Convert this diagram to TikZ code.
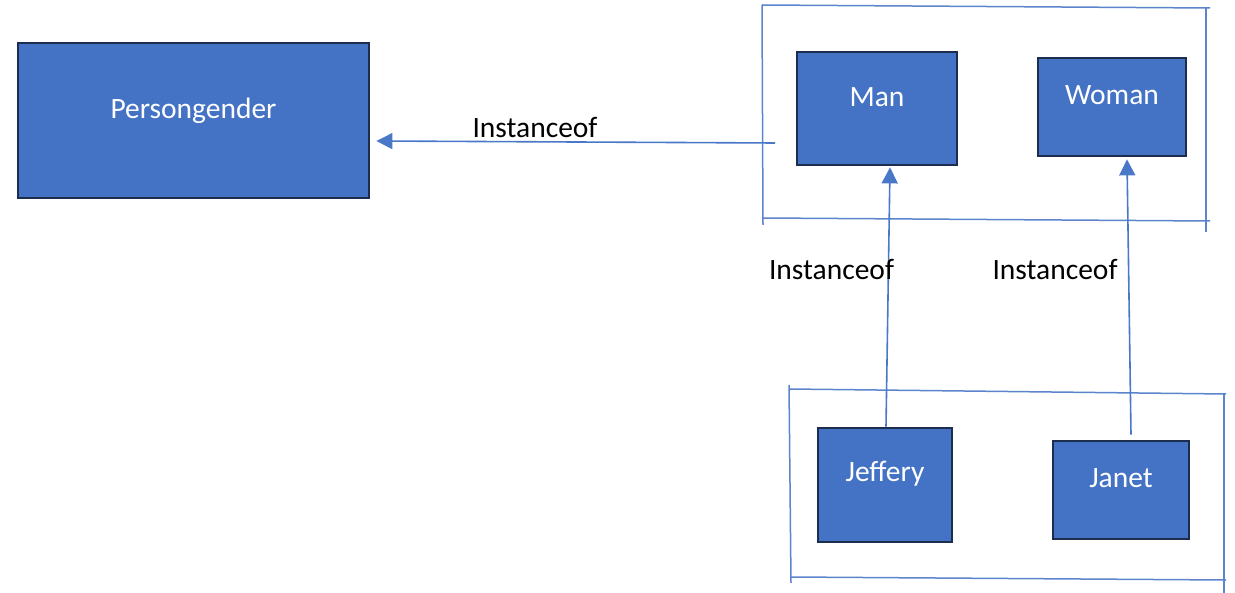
\documentclass[tikz,border=0pt]{standalone}
\usepackage{fontspec}
\setmainfont{Carlito}
\usetikzlibrary{arrows.meta}
\definecolor{boxfill}{HTML}{4472C4}
\definecolor{boxedge}{HTML}{1C2D4D}
\definecolor{wire}{HTML}{4A78C8}
\definecolor{frame}{HTML}{5B84CC}
\tikzset{
  box/.style={draw=boxedge, fill=boxfill, line width=2.8pt, rectangle, inner sep=0pt},
  boxtext/.style={text=white, font=\fontsize{29.5}{34}\selectfont, inner sep=0pt,
                  text height=20.5pt, text depth=0pt},
  reltext/.style={text=black, font=\fontsize{29.5}{34}\selectfont, inner sep=0pt,
                  text height=20.5pt, text depth=0pt},
  conn/.style={draw=wire, line width=1.6pt, -{Triangle[length=16pt,width=16pt]}},
  frameline/.style={draw=frame, line width=1.5pt}
}
\begin{document}
\begin{tikzpicture}[x=1pt, y=-1pt]
\useasboundingbox (0,0) rectangle (1235,593);

% class and instance boxes
\node[box, minimum width=351pt, minimum height=155pt,
      label={[boxtext, yshift=12.5pt]center:Persongender}] (pg) at (193.5,120.5) {};
\node[box, minimum width=160pt, minimum height=113pt,
      label={[boxtext, yshift=12.5pt]center:Man}] (man) at (877,108.5) {};
\node[box, minimum width=148pt, minimum height=98pt,
      label={[boxtext, yshift=13pt]center:Woman}] (woman) at (1112,107) {};
\node[box, minimum width=134pt, minimum height=114pt,
      label={[boxtext, yshift=13.5pt]center:Jeffery}] (jeffery) at (885,485) {};
\node[box, minimum width=136pt, minimum height=98pt,
      label={[boxtext, yshift=13pt]center:Janet}] (janet) at (1121,490) {};

% hand-drawn grouping frames
\draw[frameline] (762,5) -- (1210,8);
\draw[frameline] (762,5) -- (763,225);
\draw[frameline] (763,218) -- (1210,221);
\draw[frameline] (1206,8) -- (1206,232);

\draw[frameline] (789,389) -- (1226,394);
\draw[frameline] (789,385) -- (791,583);
\draw[frameline] (790,577) -- (1226,580);
\draw[frameline] (1224,393) -- (1224,593);

% instance-of relations
\coordinate (tail) at (775,143);
\draw[conn] (tail) -- ([shift={(6pt,-20.5pt)}]pg.east);
\draw[conn] ([xshift=1pt]jeffery.north) -- ([xshift=13pt,yshift=-1pt]man.south);
\draw[conn] ([xshift=10pt,yshift=5pt]janet.north) -- ([xshift=15pt,yshift=-2pt]woman.south);

% relation labels
\node[reltext] (lbl1) at (535,127.5) {Instanceof};
\node[reltext] (lbl2) at (831.5,269.5) {Instanceof};
\node[reltext] (lbl3) at (1055,269.5) {Instanceof};
\end{tikzpicture}
\end{document}
